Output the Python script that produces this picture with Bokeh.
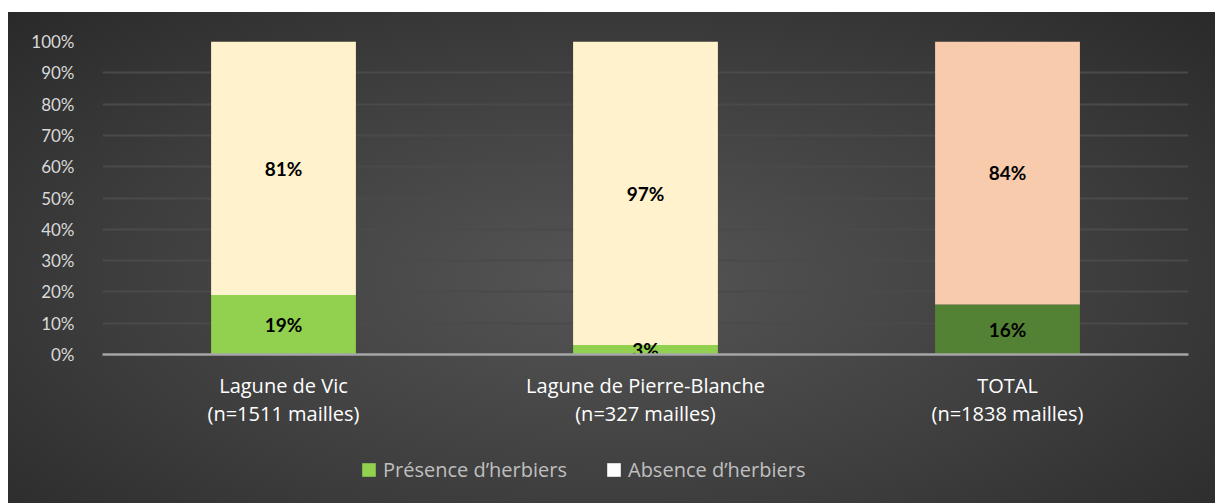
from bokeh.plotting import figure
from bokeh.layouts import column
from bokeh.models import (FactorRange, Range1d, FixedTicker, NumeralTickFormatter,
                          Legend, LegendItem, ColumnDataSource, CategoricalAxis)
from bokeh.core.properties import value
from bokeh.embed import file_html
from bokeh.resources import INLINE

# ---- data ----
categories = ["Lagune de Vic", "Lagune de Pierre-Blanche", "TOTAL"]
sample_sizes = ["(n=1511 mailles)", "(n=327 mailles)", "(n=1838 mailles)"]
presence = [0.19, 0.03, 0.16]
absence = [0.81, 0.97, 0.84]
presence_colors = ["#92d050", "#92d050", "#548235"]
absence_colors = ["#fff2cc", "#fff2cc", "#f8cbad"]
series_names = ["Présence d’herbiers", "Absence d’herbiers"]
legend_colors = ["#92d050", "#ffffff"]
y_ticks = [i / 10 for i in range(11)]

HAND = "Open Sans"
BODY = "Lato"

src = ColumnDataSource(dict(
    cat=categories,
    pres=presence,
    absn=absence,
    top=[p + a for p, a in zip(presence, absence)],
    pcol=presence_colors,
    acol=absence_colors,
    pmid=[p / 2 for p in presence],
    amid=[p + a / 2 for p, a in zip(presence, absence)],
    plab=[f"{round(p*100)}%" for p in presence],
    alab=[f"{round(a*100)}%" for a in absence],
))

p = figure(frame_width=1086, frame_height=313, x_range=FactorRange(*categories),
           y_range=Range1d(0, 1), output_backend="svg", toolbar_location=None,
           min_border_left=94, min_border_right=27, min_border_top=29,
           min_border_bottom=88)
p.background_fill_color = None
p.border_fill_color = None
p.outline_line_color = None

p.vbar(x="cat", bottom=0, top="pres", width=0.40, fill_color="pcol",
       line_color=None, source=src)
p.vbar(x="cat", bottom="pres", top="top", width=0.40, fill_color="acol",
       line_color=None, source=src)

p.text(x="cat", y="pmid", text="plab", source=src, text_align="center",
       text_baseline="middle", text_font=value(BODY), text_font_style="bold",
       text_font_size="19px", text_color="#000000")
p.text(x="cat", y="amid", text="alab", source=src, text_align="center",
       text_baseline="middle", text_font=value(BODY), text_font_style="bold",
       text_font_size="19px", text_color="#000000")

# axes
p.yaxis.ticker = FixedTicker(ticks=y_ticks)
p.yaxis.formatter = NumeralTickFormatter(format="0%")
p.yaxis.axis_line_color = None
p.yaxis.major_tick_line_color = None
p.yaxis.minor_tick_line_color = None
p.yaxis.major_label_text_font = BODY
p.yaxis.major_label_text_font_size = "17px"
p.yaxis.major_label_text_color = "#d9d9d9"
p.yaxis.major_label_standoff = 22

p.xaxis.axis_line_color = "#a6a6a6"
p.xaxis.axis_line_width = 2.5
p.xaxis.major_tick_line_color = None
p.xaxis.minor_tick_line_color = None
p.xaxis.major_label_text_font = HAND
p.xaxis.major_label_text_font_size = "20px"
p.xaxis.major_label_text_color = "#ffffff"
p.xaxis.major_label_standoff = 11

# second line of category labels: a second categorical axis on a parallel range
p.extra_x_ranges = {"n": FactorRange(*sample_sizes)}
ax2 = CategoricalAxis(x_range_name="n", axis_line_color=None,
                      major_tick_line_color=None, minor_tick_line_color=None,
                      major_label_text_font=HAND, major_label_text_font_size="20px",
                      major_label_text_color="#ffffff", major_label_standoff=-8)
p.add_layout(ax2, "below")

p.xgrid.grid_line_color = None
p.ygrid.grid_line_color = "#4a4a4a"
p.ygrid.grid_line_width = 2

# legend strip: a small figure holding only the legend
leg_src = ColumnDataSource(dict(name=series_names, color=legend_colors,
                                zero=[0] * len(series_names)))
leg = figure(width=1207, height=61, output_backend="svg", toolbar_location=None,
             x_range=FactorRange(*series_names), y_range=Range1d(0, 1),
             x_axis_type=None, y_axis_type=None, min_border=0)
leg.background_fill_color = None
leg.border_fill_color = None
leg.outline_line_color = None
leg.xgrid.grid_line_color = None
leg.ygrid.grid_line_color = None
swatch = leg.vbar(x="name", bottom="zero", top="zero", width=0, fill_color="color",
                  line_color=None, source=leg_src)
items = [LegendItem(label=name, renderers=[swatch], index=i)
         for i, name in enumerate(series_names)]
legend = Legend(items=items, orientation="horizontal", location=(258, 20),
                border_line_color=None, background_fill_alpha=0,
                label_text_color="#bfbfbf", label_text_font=HAND,
                label_text_font_size="20px", glyph_width=17, glyph_height=17,
                spacing=38, label_standoff=6, margin=0, padding=0)
leg.add_layout(legend, "center")

layout = column(p, leg, spacing=0)
layout.styles = {"margin-top": "12px", "margin-left": "8px",
                 "background": "radial-gradient(ellipse 75% 85% at 50% 55%, #555555 0%, #3d3d3d 55%, #262626 100%)"}

html = file_html(layout, INLINE)
html = html.replace("<body>", '<body style="background:#ececec">', 1)
open("out.html", "w").write(html)
